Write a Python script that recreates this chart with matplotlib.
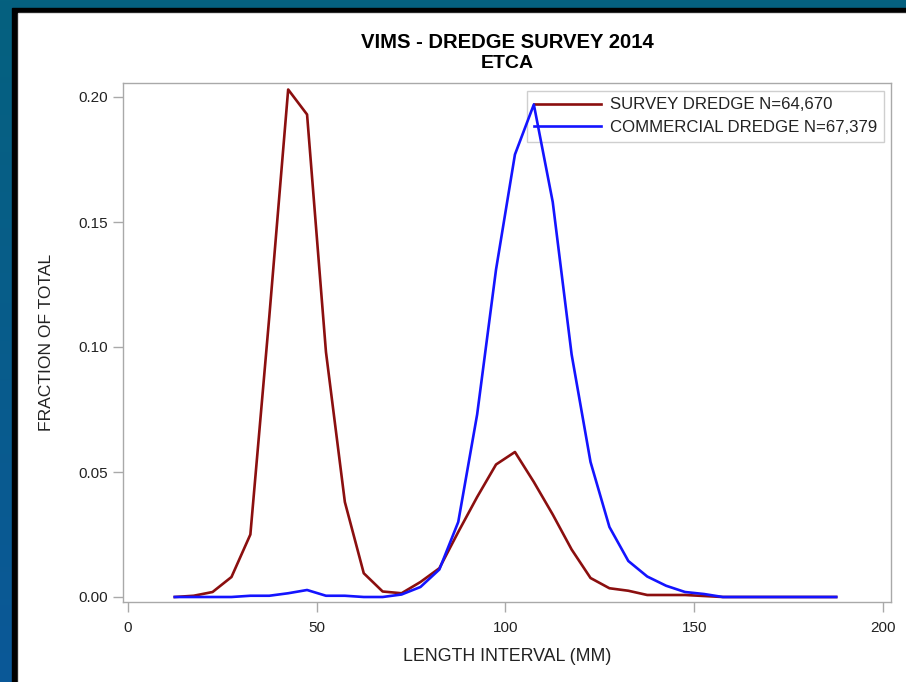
import numpy as np
import matplotlib
matplotlib.use('Agg')
import matplotlib.pyplot as plt
from matplotlib.patches import Rectangle
from matplotlib.colors import LinearSegmentedColormap

plt.rcParams['font.family'] = ['Liberation Sans', 'DejaVu Sans']

# length interval midpoints (mm)
length_mid = [12.5, 17.5, 22.5, 27.5, 32.5, 37.5, 42.5, 47.5, 52.5, 57.5,
              62.5, 67.5, 72.5, 77.5, 82.5, 87.5, 92.5, 97.5, 102.5, 107.5,
              112.5, 117.5, 122.5, 127.5, 132.5, 137.5, 142.5, 147.5, 152.5, 157.5,
              162.5, 167.5, 172.5, 177.5, 182.5, 187.5]

survey_frac = [0.0, 0.0005, 0.002, 0.008, 0.025, 0.112, 0.203, 0.193, 0.098, 0.038,
               0.0095, 0.0022, 0.0015, 0.006, 0.0115, 0.026, 0.040, 0.053, 0.058, 0.046,
               0.033, 0.019, 0.0076, 0.0035, 0.0025, 0.0008, 0.0008, 0.0008, 0.0004, 0.0,
               0.0, 0.0, 0.0, 0.0, 0.0, 0.0]

commercial_frac = [0.0, 0.0, 0.0, 0.0, 0.0005, 0.0005, 0.0015, 0.0028, 0.0005, 0.0005,
                   0.0, 0.0, 0.001, 0.004, 0.011, 0.030, 0.073, 0.131, 0.177, 0.197,
                   0.158, 0.097, 0.054, 0.028, 0.0144, 0.0082, 0.0045, 0.002, 0.0012, 0.0,
                   0.0, 0.0, 0.0, 0.0, 0.0, 0.0]

labels = ['SURVEY DREDGE N=64,670', 'COMMERCIAL DREDGE N=67,379']
colors = ['#8b0f0f', '#1414ff']

W, H = 906, 682
fig = plt.figure(figsize=(W / 100, H / 100), dpi=100)

# background: blue gradient, black border, white panel
bg = fig.add_axes([0, 0, 1, 1])
bg.set_xlim(0, W)
bg.set_ylim(H, 0)
bg.axis('off')
cmap = LinearSegmentedColormap.from_list('bg', ['#05617f', '#0b5898'])
grad = np.linspace(0, 1, 256).reshape(-1, 1)
bg.imshow(grad, cmap=cmap, extent=[0, W, H, 0], aspect='auto')
bg.add_patch(Rectangle((12, 8), W - 12, H - 8, color='black'))
bg.add_patch(Rectangle((18, 13), W - 18, H - 13, color='#d6d6d6'))
bg.add_patch(Rectangle((19, 14), W - 19, H - 14, color='white'))

# plot area
left, right, top, bottom = 123, 891, 83, 602
ax = fig.add_axes([left / W, 1 - bottom / H, (right - left) / W, (bottom - top) / H])
ax.plot(length_mid, survey_frac, color=colors[0], lw=1.9, label=labels[0], zorder=3)
ax.plot(length_mid, commercial_frac, color=colors[1], lw=1.9, label=labels[1], zorder=3)

ax.set_xlim(-1.2, 202)
ax.set_ylim(-0.002, 0.2056)
ax.set_xticks([0, 50, 100, 150, 200])
ax.set_yticks([0.0, 0.05, 0.10, 0.15, 0.20])
ax.set_yticklabels(['0.00', '0.05', '0.10', '0.15', '0.20'])

for s in ax.spines.values():
    s.set_color('#a9a9a9')
    s.set_linewidth(1.0)
ax.tick_params(length=7, width=1, color='#a9a9a9', labelsize=11,
               labelcolor='#222222', pad=4)
ax.tick_params(axis='x', pad=7)

ax.set_xlabel('LENGTH INTERVAL (MM)', fontsize=12.8, color='#222222', labelpad=9)
ax.set_ylabel('FRACTION OF TOTAL', fontsize=12.6, color='#222222', labelpad=17)

fig.text((left + right) / 2 / W, 1 - 42 / H, 'VIMS - DREDGE SURVEY 2014',
         ha='center', va='center', fontsize=14.6, fontweight='bold', color='black')
fig.text((left + right) / 2 / W, 1 - 63 / H, 'ETCA',
         ha='center', va='center', fontsize=14, fontweight='bold', color='black')

leg = ax.legend(loc='upper right', bbox_to_anchor=(884 / W, 1 - 90.7 / H),
                bbox_transform=fig.transFigure, borderaxespad=0, fontsize=12.1,
                fancybox=False, framealpha=1, edgecolor='#cfcfcf',
                handlelength=4.0, handletextpad=0.55, borderpad=0.4,
                labelspacing=0.44)
leg.set_zorder(2)
for t in leg.get_texts():
    t.set_color('#222222')
leg.get_frame().set_linewidth(1.0)

fig.savefig('out.png', dpi=100)
